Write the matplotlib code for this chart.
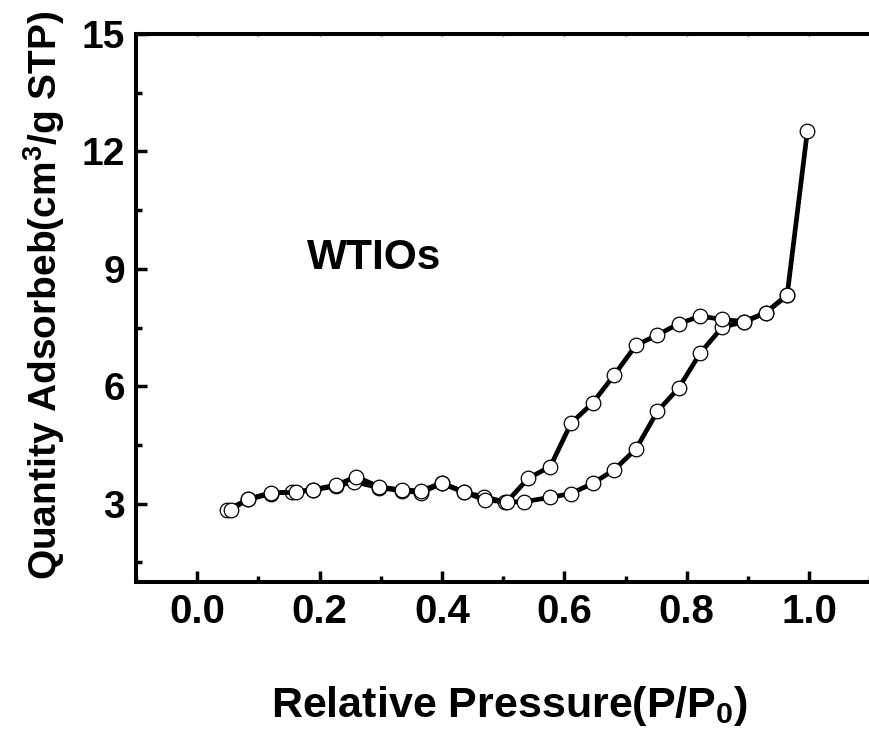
import numpy as np
import matplotlib
matplotlib.use('Agg')
import matplotlib.pyplot as plt
from matplotlib.ticker import MultipleLocator

# ADSORPTION / DESORPTION DATA
ads_p = [0.049, 0.083, 0.121, 0.155, 0.189, 0.226, 0.257, 0.297, 0.335, 0.365, 0.400, 0.436, 0.468,
         0.503, 0.534, 0.576, 0.611, 0.646, 0.681, 0.717, 0.752, 0.787, 0.822, 0.858, 0.894, 0.929,
         0.964, 0.997]
ads_q = [2.84, 3.11, 3.26, 3.31, 3.35, 3.45, 3.56, 3.41, 3.33, 3.28, 3.52, 3.29, 3.18,
         3.04, 3.05, 3.16, 3.26, 3.52, 3.86, 4.40, 5.36, 5.96, 6.85, 7.51, 7.65, 7.88,
         8.33, 12.52]

des_p = [0.964, 0.929, 0.894, 0.858, 0.822, 0.787, 0.752, 0.717, 0.681, 0.646, 0.611, 0.577, 0.541,
         0.506, 0.471, 0.436, 0.400, 0.365, 0.335, 0.297, 0.260, 0.226, 0.189, 0.162, 0.121, 0.083,
         0.056]
des_q = [8.33, 7.88, 7.65, 7.71, 7.79, 7.60, 7.31, 7.05, 6.28, 5.57, 5.06, 3.95, 3.65,
         3.05, 3.09, 3.30, 3.53, 3.33, 3.35, 3.43, 3.69, 3.47, 3.36, 3.29, 3.28, 3.12,
         2.85]

sample_name = 'WTIOs'
x_ticks = [0.0, 0.2, 0.4, 0.6, 0.8, 1.0]
y_ticks = [3, 6, 9, 12, 15]

# FONT SETTINGS
plt.rcParams['font.family'] = ['Liberation Sans', 'DejaVu Sans']
plt.rcParams['font.weight'] = 'bold'
plt.rcParams['mathtext.fontset'] = 'custom'
plt.rcParams['mathtext.rm'] = 'Liberation Sans:bold'
plt.rcParams['mathtext.bf'] = 'Liberation Sans:bold'
plt.rcParams['mathtext.default'] = 'bf'

fig = plt.figure(figsize=(8.69, 7.31), dpi=100)
ax = fig.add_axes([136 / 869, 1 - 582 / 731, (870.4 - 136) / 869, (582 - 34) / 731])

# isotherm curves
for p, q in [(ads_p, ads_q), (des_p, des_q)]:
    ax.plot(p, q, color='black', lw=3.4, marker='o', ms=10.5,
            mfc='white', mec='black', mew=0.9)

ax.set_xlim(-0.1, 1.1)
ax.set_ylim(1, 15)
ax.set_xticks(x_ticks)
ax.set_xticklabels(['%.1f' % t for t in x_ticks])
ax.set_yticks(y_ticks)
ax.xaxis.set_minor_locator(MultipleLocator(0.1))
ax.yaxis.set_minor_locator(MultipleLocator(1.5))

for s in ['left', 'bottom', 'top']:
    ax.spines[s].set_linewidth(2.9)
ax.spines['right'].set_visible(False)

ax.tick_params(which='major', direction='in', length=8, width=2.5, pad=8)
ax.tick_params(which='minor', direction='in', length=4, width=2.5)
ax.tick_params(axis='x', labelsize=29)
ax.tick_params(axis='y', labelsize=28)
ax.tick_params(axis='x', which='both', top=True, labeltop=False)
for t in ax.xaxis.get_ticklines()[1::2] + ax.xaxis.get_minorticklines()[1::2]:
    t.set_markersize(1.2)
    t.set_markeredgewidth(1)

# sample label
ax.text(0.18, 9.0, sample_name, fontsize=30.5, fontweight='bold', ha='left', va='baseline')

# axis titles
fig.text(510 / 869, 1 - 717 / 731, r'Relative Pressure(P/P$_0$)', fontsize=31,
         fontweight='bold', ha='center', va='baseline')
fig.text(57 / 869, 1 - 295 / 731, r'Quantity Adsorbeb(cm$^3$/g STP)', fontsize=28,
         fontweight='bold', rotation=90, rotation_mode='anchor', ha='center', va='baseline')

fig.savefig('out.png', dpi=100)
